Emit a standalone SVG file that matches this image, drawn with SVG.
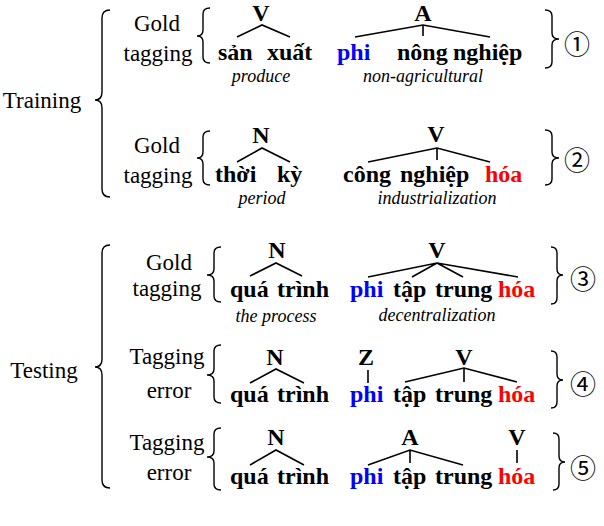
<svg xmlns="http://www.w3.org/2000/svg" width="604" height="526" viewBox="0 0 604 526" font-family="Liberation Serif, serif">
<style>
text{fill:#000}
.r{font-size:23px;text-anchor:middle}
.w{font-size:24px;font-weight:bold}
.l{font-size:24px;font-weight:bold;text-anchor:middle}
.g{font-size:18px;font-style:italic;text-anchor:middle}
.b{fill:#0000ff}
.red{fill:#ff0000}
.c{font-family:'Noto Sans CJK JP','DejaVu Sans',sans-serif;font-size:26px;text-anchor:middle;dominant-baseline:central}
.br{fill:none;stroke:#000;stroke-width:1.4}
.t{fill:none;stroke:#000;stroke-width:1.6}
</style>
<rect width="604" height="526" fill="#fff"/>
<g id="training">
<text x="42" y="108" class="r">Training</text>
<path class="br" d="M110,10 Q102,10 102,18 L102,92 Q102,100 95,100 Q102,100 102,108 L102,189 Q102,197 110,197"/>
</g>
<g id="testing">
<text x="44" y="378" class="r">Testing</text>
<path class="br" d="M110,245 Q102,245 102,253 L102,359 Q102,367 95,367 Q102,367 102,375 L102,480 Q102,488 110,488"/>
</g>
<g id="ex1">
<text x="157" y="31" class="r">Gold</text>
<text x="158" y="61" class="r">tagging</text>
<path class="br" d="M210,8 Q203,8 203,14 L203,30 Q203,36 197,36 Q203,36 203,42 L203,57 Q203,63 210,63"/>
<text x="261" y="21" class="l" font-size="23">V</text>
<text x="423" y="21" class="l" font-size="23">A</text>
<text x="218" y="60" class="w">sản</text>
<text x="267" y="60" class="w">xuất</text>
<text x="337" y="60" class="w b">phi</text>
<text x="397" y="60" class="w">nông</text>
<text x="453" y="60" class="w">nghiệp</text>
<text x="261" y="82" class="g">produce</text>
<text x="423" y="82" class="g">non-agricultural</text>
<path class="br" d="M545,10 Q552,10 552,16 L552,33 Q552,39 559,39 Q552,39 552,45 L552,62 Q552,68 545,68"/>
<text x="577" y="42" class="c">①</text>
</g>
<g id="ex2">
<text x="157" y="153" class="r">Gold</text>
<text x="158" y="183" class="r">tagging</text>
<path class="br" d="M210,131 Q203,131 203,137 L203,152 Q203,158 197,158 Q203,158 203,164 L203,179 Q203,185 210,185"/>
<text x="261" y="143" class="l">N</text>
<text x="436" y="142" class="l">V</text>
<text x="215" y="182" class="w">thời</text>
<text x="277" y="182" class="w">kỳ</text>
<text x="343" y="182" class="w">công</text>
<text x="400" y="182" class="w">nghiệp</text>
<text x="485" y="182" class="w red">hóa</text>
<text x="262" y="204" class="g">period</text>
<text x="437" y="204" class="g">industrialization</text>
<path class="br" d="M545,130 Q552,130 552,136 L552,152 Q552,158 559,158 Q552,158 552,164 L552,179 Q552,185 545,185"/>
<text x="577" y="158" class="c">②</text>
</g>
<g id="ex3">
<text x="169" y="270" class="r">Gold</text>
<text x="167" y="296" class="r">tagging</text>
<path class="br" d="M221,247 Q214,247 214,253 L214,269 Q214,275 207,275 Q214,275 214,281 L214,296 Q214,302 221,302"/>
<text x="277" y="258" class="l">N</text>
<text x="437" y="258" class="l">V</text>
<text x="230" y="297" class="w">quá</text>
<text x="277" y="297" class="w">trình</text>
<text x="350" y="297" class="w b">phi</text>
<text x="393" y="297" class="w">tập</text>
<text x="435" y="297" class="w">trung</text>
<text x="498" y="297" class="w red">hóa</text>
<text x="276" y="322" class="g">the process</text>
<text x="437" y="321" class="g">decentralization</text>
<path class="br" d="M551,247 Q557,247 557,253 L557,269 Q557,275 563,275 Q557,275 557,281 L557,298 Q557,304 551,304"/>
<text x="583" y="277" class="c">③</text>
</g>
<g id="ex4">
<text x="167" y="364" class="r">Tagging</text>
<text x="169" y="398" class="r">error</text>
<path class="br" d="M221,345 Q214,345 214,351 L214,369 Q214,375 207,375 Q214,375 214,381 L214,397 Q214,403 221,403"/>
<text x="275" y="365" class="l">N</text>
<text x="366" y="365" class="l">Z</text>
<text x="464" y="365" class="l">V</text>
<text x="230" y="402" class="w">quá</text>
<text x="277" y="402" class="w">trình</text>
<text x="350" y="402" class="w b">phi</text>
<text x="393" y="402" class="w">tập</text>
<text x="435" y="402" class="w">trung</text>
<text x="498" y="402" class="w red">hóa</text>
<path class="br" d="M551,351 Q557,351 557,357 L557,374 Q557,380 563,380 Q557,380 557,386 L557,402 Q557,408 551,408"/>
<text x="583" y="382" class="c">④</text>
</g>
<g id="ex5">
<text x="167" y="450" class="r">Tagging</text>
<text x="169" y="480" class="r">error</text>
<path class="br" d="M221,428 Q214,428 214,434 L214,451 Q214,457 207,457 Q214,457 214,463 L214,484 Q214,490 221,490"/>
<text x="276" y="445" class="l">N</text>
<text x="410" y="445" class="l">A</text>
<text x="517" y="445" class="l">V</text>
<text x="230" y="484" class="w">quá</text>
<text x="277" y="484" class="w">trình</text>
<text x="350" y="484" class="w b">phi</text>
<text x="393" y="484" class="w">tập</text>
<text x="435" y="484" class="w">trung</text>
<text x="498" y="484" class="w red">hóa</text>
<path class="br" d="M553,433 Q559,433 559,439 L559,456 Q559,462 565,462 Q559,462 559,468 L559,484 Q559,490 553,490"/>
<text x="583" y="466" class="c">⑤</text>
</g>
<g id="connectors">
<path class="t" d="M237,37 L262,25 L290,37"/>
<path class="t" d="M355,37 L423,25 L490,37 M423,25 L423,36"/>
<path class="t" d="M237,162 L262,148 L290,162"/>
<path class="t" d="M368,162 L437,148 L490,162 M437,148 L437,160"/>
<path class="t" d="M250,276 L276,263 L302,276"/>
<path class="t" d="M368,277 L437,263 L518,277 M437,263 L412,277 M437,263 L463,277"/>
<path class="t" d="M250,383 L276,369 L304,383"/>
<path class="t" d="M368,370 L368,383"/>
<path class="t" d="M405,382 L464,368 L517,382 M464,368 L464,382"/>
<path class="t" d="M250,465 L276,450 L304,465"/>
<path class="t" d="M368,465 L410,450 L463,465 M410,450 L410,463"/>
<path class="t" d="M517,450 L517,463"/>
</g>
</svg>
